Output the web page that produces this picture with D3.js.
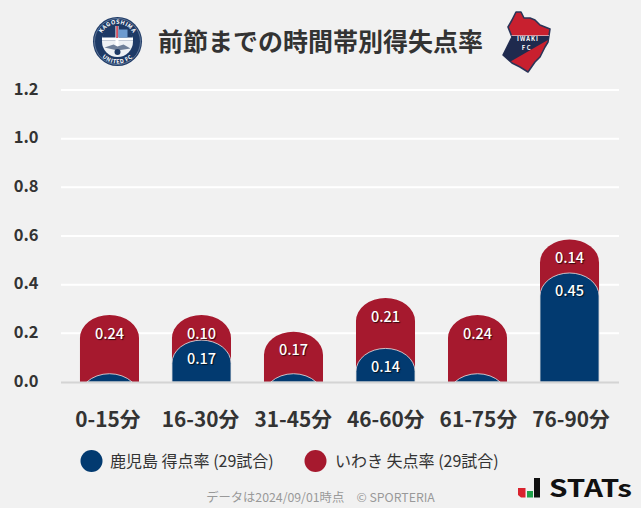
<!DOCTYPE html>
<html><head><meta charset="utf-8">
<script src="https://cdn.jsdelivr.net/npm/d3@7"></script>
<style>
html,body{margin:0;padding:0;background:#f1f1f1}
svg{display:block}
text{font-family:"Noto Sans CJK JP","Noto Sans",sans-serif}
</style></head><body>
<svg id="c" width="641" height="508"></svg>
<script>
const categories=["0-15分","16-30分","31-45分","46-60分","61-75分","76-90分"];
const homeValues=[0.034,0.172,0.034,0.138,0.034,0.448];
const awayValues=[0.241,0.103,0.172,0.207,0.241,0.138];
const yTicks=[0,0.2,0.4,0.6,0.8,1.0,1.2];
const legendNames=["鹿児島 得点率 (29試合)","いわき 失点率 (29試合)"];
const titleText="前節までの時間帯別得失点率";
const footerText="データは2024/09/01時点　© SPORTERIA";
const navy="#023a70",red="#a6192e";

const svg=d3.select("#c");
svg.append("rect").attr("width",641).attr("height",508).attr("fill","#f1f1f1");
const y=d3.scaleLinear().domain([0,1.2]).range([382,90]);
const x=d3.scaleBand().domain(categories).range([63.5,615.5]).paddingInner(0.3585).paddingOuter(0.179);
const xLabel=d3.scalePoint().domain(categories).range([108,571]);
const fmt=d3.format(".1f"),fmt2=d3.format(".2f");

svg.append("g").selectAll("line").data(yTicks.slice(1)).join("line")
 .attr("x1",61).attr("x2",619).attr("y1",d=>y(d)).attr("y2",d=>y(d))
 .attr("stroke","#fff").attr("stroke-width",2);
svg.append("g").selectAll("text").data(yTicks).join("text")
 .attr("x",38.5).attr("y",d=>y(d)+4.5).attr("text-anchor","end")
 .attr("font-size",16.5).attr("font-weight",700).attr("fill","#333").text(fmt);

const ry=23;
function bar(x0,w,top,base){
  const rx=w/2,h=base-top;
  if(h>=ry) return `M${x0},${base}V${top+ry}A${rx},${ry} 0 0 1 ${x0+w},${top+ry}V${base}Z`;
  const dx=rx*Math.sqrt(1-Math.pow((ry-h)/ry,2));
  const cx=x0+rx;
  return `M${cx-dx},${base}A${rx},${ry} 0 0 1 ${cx+dx},${base}Z`;
}
const g=svg.append("g");
g.selectAll("path.a").data(categories).join("path").attr("class","a")
 .attr("d",(c,i)=>bar(x(c),x.bandwidth(),y(homeValues[i]+awayValues[i]),y(0)))
 .attr("fill",red);
g.selectAll("path.h").data(categories).join("path").attr("class","h")
 .attr("d",(c,i)=>bar(x(c),x.bandwidth(),y(homeValues[i]),y(0)))
 .attr("fill",navy).attr("stroke","#e6e6e6").attr("stroke-width",0.8);

svg.append("line").attr("x1",61).attr("x2",619).attr("y1",382.5).attr("y2",382.5)
 .attr("stroke","#d4d4d4").attr("stroke-width",2);

function labels(vals,offs){
 const s=svg.append("g");
 s.selectAll("text").data(categories).join("text")
  .attr("x",c=>x(c)+x.bandwidth()/2)
  .attr("y",(c,i)=>offs(i)+5)
  .attr("text-anchor","middle").attr("font-size",14.5).attr("font-weight",500)
  .attr("fill","#fff").style("text-shadow","1px 1px 1px rgba(0,0,0,.7)")
  .text((c,i)=>vals[i]>0.05?fmt2(vals[i]):"");
}
labels(awayValues,i=>y(homeValues[i]+awayValues[i])+18.5);
labels(homeValues,i=>y(homeValues[i])+18.5);

svg.append("g").selectAll("text").data(categories).join("text")
 .attr("x",c=>xLabel(c)).attr("y",427).attr("text-anchor","middle")
 .attr("font-size",20.8).attr("font-weight",700).attr("fill","#333").text(c=>c);

svg.append("text").attr("x",320.5).attr("y",51).attr("text-anchor","middle")
 .attr("font-size",25).attr("font-weight",700).attr("fill","#333").text(titleText);

const lg=svg.append("g");
[[91.5,navy,110],[315.5,red,335]].forEach((d,i)=>{
 lg.append("circle").attr("cx",d[0]).attr("cy",461).attr("r",11).attr("fill",d[1]);
 lg.append("text").attr("x",d[2]).attr("y",466.5).attr("font-size",16).attr("fill","#333").text(legendNames[i]);
});
svg.append("text").attr("x",320.5).attr("y",502).attr("text-anchor","middle")
 .attr("font-size",12.3).attr("fill","#999").text(footerText);

// Kagoshima crest
const defs=svg.append("defs");
const k=svg.append("g").attr("transform","translate(117.5,41.5)");
k.append("circle").attr("r",24.5).attr("fill","#1e3a66");
k.append("circle").attr("r",23).attr("fill","none").attr("stroke","#9fb0c8").attr("stroke-width",.5);
k.append("circle").attr("r",15.5).attr("fill","#eef1f5");
k.append("path").attr("d","M-15.5,-1A15.5,15.5 0 0 1 15.5,-1Z").attr("fill","#1e3a66");
k.append("rect").attr("x",-15.5).attr("y",-4).attr("width",31).attr("height",3).attr("fill","#fff");
k.append("rect").attr("x",-2).attr("y",-15.5).attr("width",3).attr("height",21).attr("fill","#fff");
k.append("rect").attr("x",-1.2).attr("y",-15.5).attr("width",1.5).attr("height",12).attr("fill","#c8283c");
k.append("rect").attr("x",1).attr("y",-12).attr("width",9).attr("height",8).attr("fill","#6d9bd0");
k.append("path").attr("d","M-13,6L-4,3L0,5L6,3L13,7L0,9Z").attr("fill","#6f7f99");
k.append("circle").attr("cy",10.5).attr("r",3).attr("fill","#1e3a66");
defs.append("path").attr("id","kt").attr("d","M-17.6,0A17.6,17.6 0 0 1 17.6,0");
defs.append("path").attr("id","kb").attr("d","M-22,0A22,22 0 0 0 22,0");
k.append("text").attr("font-size",5.6).attr("font-weight",700).attr("fill","#fff").attr("letter-spacing",.5)
 .append("textPath").attr("href","#kt").attr("startOffset","50%").attr("text-anchor","middle").text("KAGOSHIMA");
k.append("text").attr("font-size",5.6).attr("font-weight",700).attr("fill","#fff").attr("letter-spacing",.5)
 .append("textPath").attr("href","#kb").attr("startOffset","50%").attr("text-anchor","middle").text("UNITED FC");

// Iwaki crest
const w=svg.append("g");
const shape="M516,12L521,12L524,18L530,18L535,20L540,25L550,29L548,42L545,47L540,57L535,62L528,72L520,67L512,63L503,55L508,45L512,37L508,27L512,20Z";
defs.append("clipPath").attr("id","iw").append("path").attr("d",shape);
w.append("path").attr("d",shape).attr("fill","#c8202f").attr("stroke","#2b3558").attr("stroke-width",1.6).attr("stroke-linejoin","round");
const wc=w.append("g").attr("clip-path","url(#iw)");
wc.append("path").attr("d","M500,36H555V36L508,63L500,57Z").attr("fill","#1f2a4e");
wc.append("path").attr("d","M500,35.5H555").attr("stroke","#e8e8ee").attr("stroke-width",.6);
w.append("text").attr("x",528).attr("y",40.5).attr("text-anchor","middle").attr("font-family","Liberation Serif").attr("font-size",5.8).attr("font-weight",700).attr("fill","#fff").attr("letter-spacing",1).text("IWAKI");
w.append("text").attr("x",527).attr("y",50).attr("text-anchor","middle").attr("font-family","Liberation Serif").attr("font-size",5.8).attr("font-weight",700).attr("fill","#fff").attr("letter-spacing",1.6).text("FC");

// STATs mark
const st=svg.append("g");
st.append("path").attr("d","M518,488H525.5V497.5L521,497.5L518,495Z").attr("fill","#d9232e");
st.append("rect").attr("x",527).attr("y",491).attr("width",6).attr("height",6.5).attr("fill","#1fa14a");
st.append("rect").attr("x",534).attr("y",478).attr("width",6).attr("height",19.5).attr("fill","#111");
st.append("text").attr("x",549).attr("y",497).attr("font-family","Inter").attr("font-size",23.5).attr("font-weight",600).attr("fill","#111").attr("textLength",83).attr("lengthAdjust","spacingAndGlyphs").text("STATs");
</script></body></html>
